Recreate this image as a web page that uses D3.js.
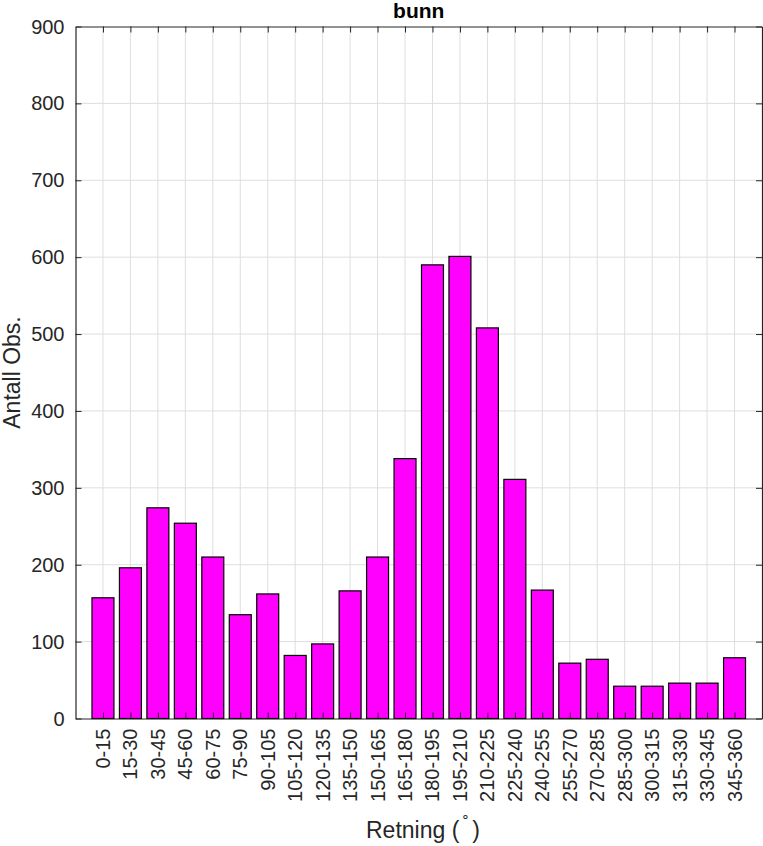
<!DOCTYPE html>
<html>
<head>
<meta charset="utf-8">
<script src="https://cdn.jsdelivr.net/npm/d3@7"></script>
<style>
  html, body { margin: 0; padding: 0; background: #fff; }
  svg { display: block; font-family: "Liberation Sans", Arial, Helvetica, sans-serif; }
</style>
</head>
<body>
<svg id="chart" width="763" height="846"></svg>
<script>
const categories = ["0-15","15-30","30-45","45-60","60-75","75-90","90-105","105-120","120-135","135-150","150-165","165-180","180-195","195-210","210-225","225-240","240-255","255-270","270-285","285-300","300-315","315-330","330-345","345-360"];
const counts = [157,196,274,254,210,135,162,82,97,166,210,338,590,601,508,311,167,72,77,42,42,46,46,79];
const yTicks = [0,100,200,300,400,500,600,700,800,900];
const titleText = "bunn";
const yLabel = "Antall Obs.";

(function () {
const svg = d3.select("#chart");
const pL = 75.5, pR = 762, pT = 26.5, pB = 718.5;
const textColor = "#262626";

const x = d3.scaleLinear().domain([0, categories.length + 1]).range([pL, pR]);
const y = d3.scaleLinear().domain([0, 900]).range([pB, pT]);
const barW = 0.8;

// grid
const grid = svg.append("g");
grid.selectAll("line.v").data(categories).enter().append("line")
  .attr("x1", (d,i) => x(i+1)).attr("x2", (d,i) => x(i+1))
  .attr("y1", pT).attr("y2", pB)
  .attr("stroke", "#dedede").attr("stroke-width", 1);
grid.selectAll("line.h").data(yTicks.slice(1, -1)).enter().append("line")
  .attr("x1", pL).attr("x2", pR)
  .attr("y1", d => y(d)).attr("y2", d => y(d))
  .attr("stroke", "#dedede").attr("stroke-width", 1);

// bars
svg.append("g").selectAll("rect").data(counts).enter().append("rect")
  .attr("x", (d,i) => x(i+1 - barW/2))
  .attr("width", x(barW) - x(0))
  .attr("y", d => y(d))
  .attr("height", d => y(0) - y(d))
  .attr("fill", "#ff00ff")
  .attr("stroke", "#000").attr("stroke-width", 1.2);

// axes (inside ticks, box)
const tickLen = 6;
const axisG = svg.append("g");
const bottomAxis = d3.axisBottom(x).tickValues(d3.range(1, categories.length + 1)).tickSizeInner(-tickLen).tickSizeOuter(0).tickFormat("");
const topAxis = d3.axisTop(x).tickValues(d3.range(1, categories.length + 1)).tickSizeInner(-tickLen).tickSizeOuter(0).tickFormat("");
const leftAxis = d3.axisLeft(y).tickValues(yTicks).tickSizeInner(-tickLen).tickSizeOuter(0).tickFormat("");
const rightAxis = d3.axisRight(y).tickValues(yTicks).tickSizeInner(-tickLen).tickSizeOuter(0).tickFormat("");

[[bottomAxis, `translate(0,${pB})`], [topAxis, `translate(0,${pT})`], [leftAxis, `translate(${pL},0)`], [rightAxis, `translate(${pR},0)`]].forEach(([ax, tr]) => {
  const g = axisG.append("g").attr("transform", tr).call(ax);
  g.selectAll("path").attr("stroke", textColor).attr("stroke-width", 1.2);
  g.selectAll("line").attr("stroke", textColor).attr("stroke-width", 1);
});

// y tick labels
svg.append("g").selectAll("text").data(yTicks).enter().append("text")
  .attr("x", pL - 11).attr("y", d => y(d)).attr("dy", "0.35em")
  .attr("text-anchor", "end").attr("font-size", 20).attr("fill", textColor)
  .text(d => d);

// x tick labels rotated
svg.append("g").selectAll("text").data(categories).enter().append("text")
  .attr("transform", (d,i) => `translate(${x(i+1)},${pB + 10}) rotate(-90)`)
  .attr("dy", "0.35em")
  .attr("text-anchor", "end").attr("font-size", 20).attr("fill", textColor)
  .text(d => d);

// title
svg.append("text").attr("x", (pL + pR)/2).attr("y", 18)
  .attr("text-anchor", "middle").attr("font-size", 21).attr("font-weight", "bold")
  .attr("fill", "#000").text(titleText);

// y label
svg.append("text").attr("transform", `translate(20,${(pT+pB)/2}) rotate(-90)`)
  .attr("text-anchor", "middle").attr("font-size", 23).attr("fill", textColor)
  .text(yLabel);

// x label
const xl = svg.append("text").attr("x", 366).attr("y", 838)
  .attr("text-anchor", "start").attr("font-size", 23).attr("fill", textColor);
xl.append("tspan").text("Retning (");
xl.append("tspan").attr("dx", 2).attr("dy", -17).attr("font-size", 14).text("\u2218");
xl.append("tspan").attr("dx", 2).attr("dy", 17).text(")");
})();
</script>
</body>
</html>
